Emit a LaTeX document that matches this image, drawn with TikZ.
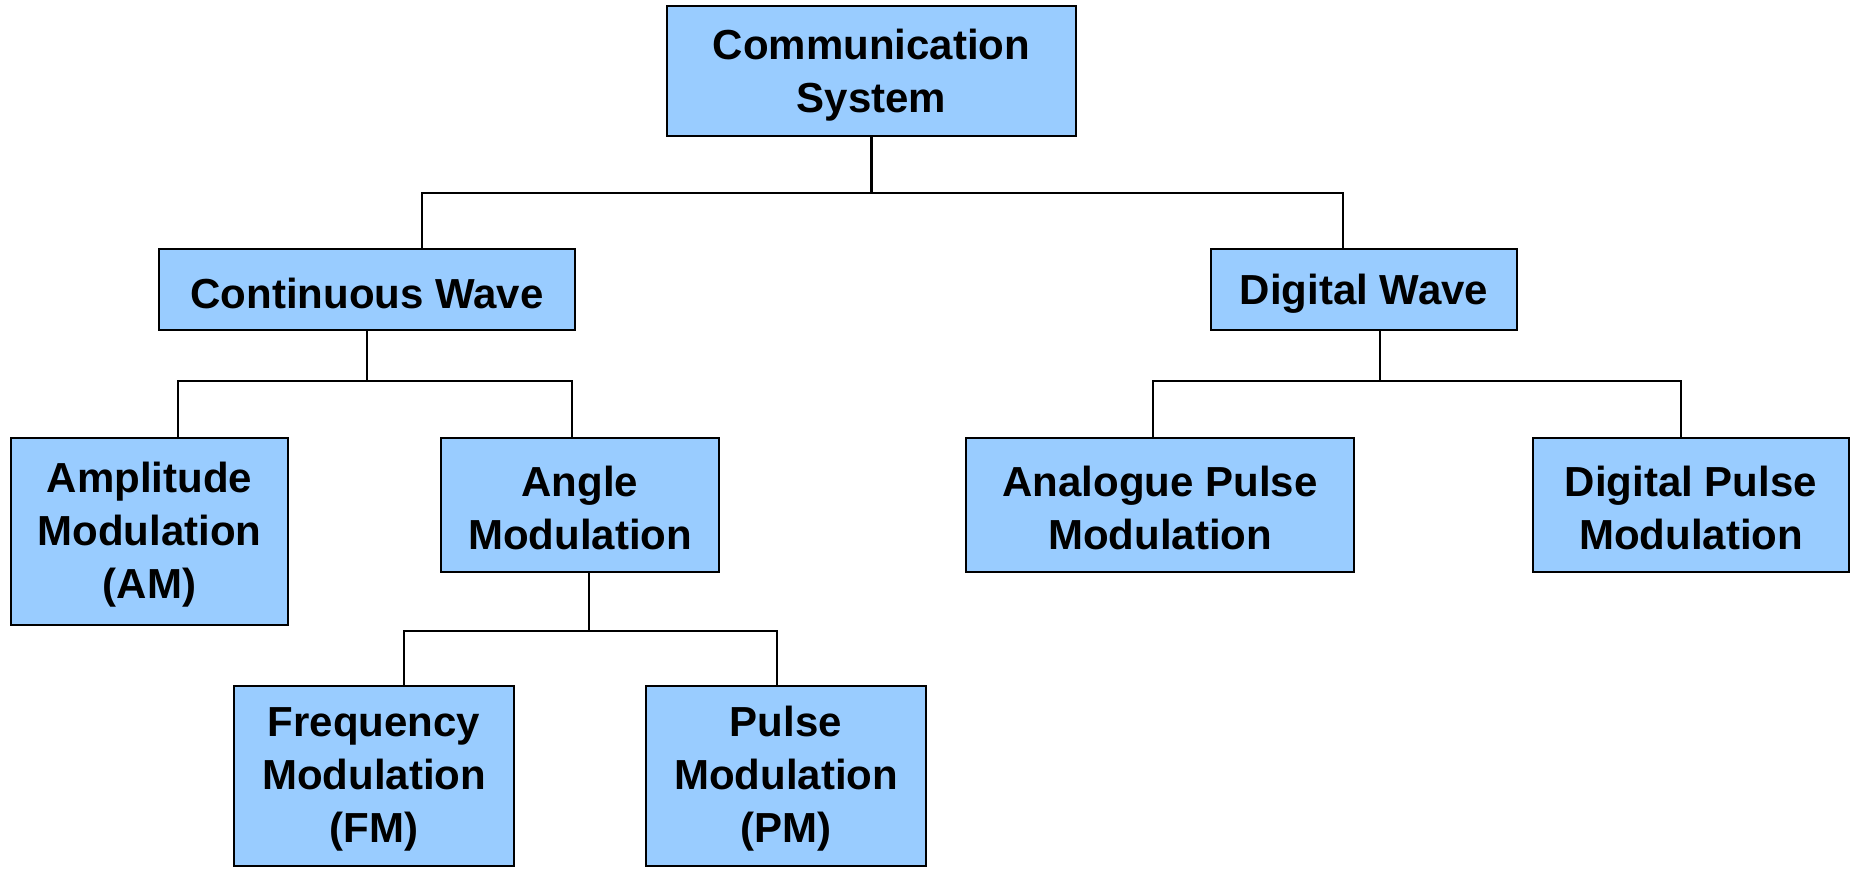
\documentclass[tikz,border=0pt]{standalone}
\usepackage{fontspec}
\setmainfont{Liberation Sans}
\definecolor{boxblue}{HTML}{99CCFF}
\begin{document}
\begin{tikzpicture}[x=1pt,y=-1pt,
  box/.style={draw=black,line width=2.5pt,fill=boxblue,inner sep=0pt},
  txt/.style={inner sep=0pt,align=center,font=\fontsize{42}{53}\selectfont\bfseries},
  conn/.style={draw=black,line width=2.4pt}]
\useasboundingbox (0,0) rectangle (1852,868);
\node[box,minimum width=409pt,minimum height=130pt] (cs) at (871.5,71) {};
\node[box,minimum width=416pt,minimum height=81pt] (cw) at (367,289.5) {};
\node[box,minimum width=306pt,minimum height=81pt] (dw) at (1364,289.5) {};
\node[box,minimum width=277pt,minimum height=187pt] (am) at (149.5,531.5) {};
\node[box,minimum width=278pt,minimum height=134pt] (ang) at (580,505) {};
\node[box,minimum width=388pt,minimum height=134pt] (apm) at (1160,505) {};
\node[box,minimum width=316pt,minimum height=134pt] (dpm) at (1691,505) {};
\node[box,minimum width=280pt,minimum height=180pt] (fm) at (374,776) {};
\node[box,minimum width=280pt,minimum height=180pt] (pm) at (786,776) {};
\node[txt] (tcs) at ([yshift=-4pt]cs.center) {Communication\\System};
\node[txt] (tcw) at ([yshift=-4pt]cw.center) {Continuous Wave};
\node[txt] (tdw) at ([yshift=-4pt]dw.center) {Digital Wave};
\node[txt] (tam) at ([yshift=-3pt]am.center) {Amplitude\\Modulation\\(AM)};
\node[txt] (tang) at ([yshift=-3pt]ang.center) {Angle\\Modulation};
\node[txt] (tapm) at ([yshift=-3pt]apm.center) {Analogue Pulse\\Modulation};
\node[txt] (tdpm) at ([yshift=-3pt]dpm.center) {Digital Pulse\\Modulation};
\node[txt] (tfm) at ([yshift=-3pt]fm.center) {Frequency\\Modulation\\(FM)};
\node[txt] (tpm) at ([yshift=-3pt]pm.center) {Pulse\\Modulation\\(PM)};
% level 1
\coordinate (j1) at (cs.south |- 0,193);
\draw[conn] (cs.south) -- (j1);
\draw[conn] (cw.north -| 422,0) |- (j1) -| (dw.north -| 1343,0);
% continuous wave
\coordinate (j2) at (cw.south |- 0,381);
\draw[conn] (cw.south) -- (j2);
\draw[conn] (am.north -| 178,0) |- (j2) -| (ang.north -| 572,0);
% digital wave
\coordinate (j3) at (1380,381);
\draw[conn] (dw.south -| j3) -- (j3);
\draw[conn] (apm.north -| 1153,0) |- (j3) -| (dpm.north -| 1681,0);
% angle modulation
\coordinate (j4) at (589,631);
\draw[conn] (ang.south -| j4) -- (j4);
\draw[conn] (fm.north -| 404,0) |- (j4) -| (pm.north -| 777,0);
\end{tikzpicture}
\end{document}
